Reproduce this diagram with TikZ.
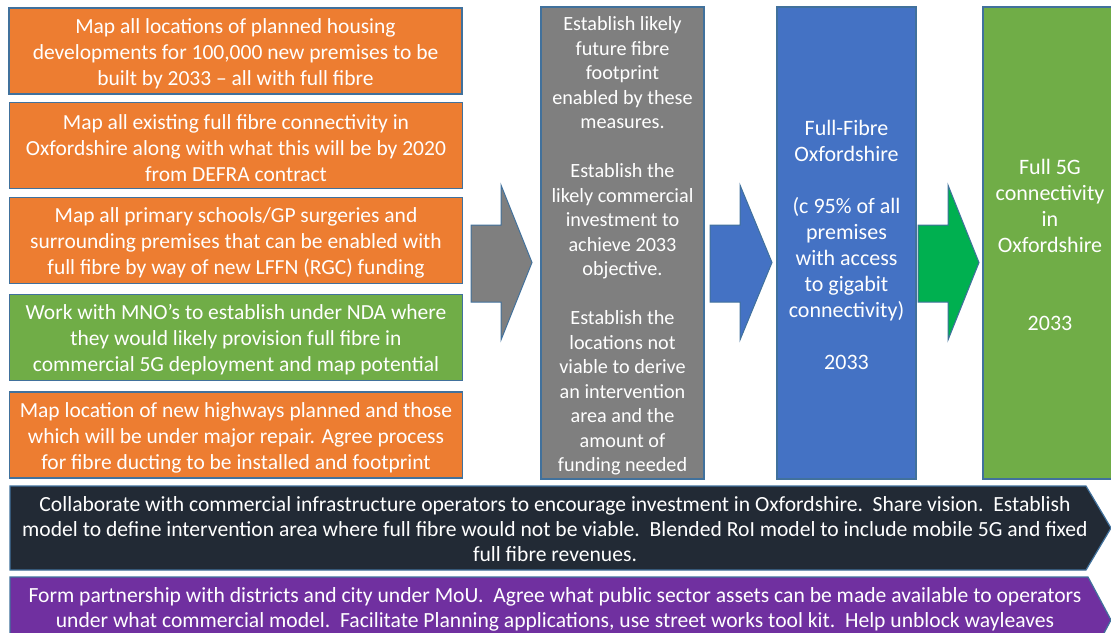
\documentclass[tikz,border=0pt]{standalone}
\usepackage{fontspec}
\setmainfont{Carlito}
\definecolor{orng}{HTML}{ED7D31}
\definecolor{grn}{HTML}{70AD47}
\definecolor{blu}{HTML}{4472C4}
\definecolor{gry}{HTML}{7F7F7F}
\definecolor{drk}{HTML}{222A35}
\definecolor{prp}{HTML}{7030A0}
\definecolor{arrgrn}{HTML}{00B050}
\definecolor{edge}{HTML}{41719C}
\begin{document}
\begin{tikzpicture}[x=1pt,y=-1pt,
  box/.style={draw=edge, line width=1.2pt, inner sep=0pt},
  leftbox/.style={box, minimum width=453pt, minimum height=86pt},
  colbox/.style={box, minimum height=472pt},
  txt/.style={text=white, align=center, inner sep=0pt},
  lefttxt/.style={txt, font=\fontsize{21.5}{26}\selectfont},
  blockarrow/.style={draw=edge, line width=1pt},
  banner/.style={draw=edge, line width=1.2pt},
  bannertxt/.style={txt, font=\fontsize{21.6}{25}\selectfont}]
\useasboundingbox (0,0) rectangle (1111,632);
\clip (0,0) rectangle (1111,632);

% left boxes
\node[leftbox, fill=orng] (b1) at (235.5,51) {};
\node[lefttxt] (b1t) at ([yshift=-3pt]b1.center) {Map all locations of planned housing\\developments for 100,000 new premises to be\\built by 2033 -- all with full fibre};
\node[leftbox, fill=orng] (b2) at (236,145.5) {};
\node[lefttxt] (b2t) at ([yshift=-2.5pt]b2.center) {Map all existing full fibre connectivity in\\Oxfordshire along with what this will be by 2020\\from DEFRA contract};
\node[leftbox, fill=orng] (b3) at (236,240.5) {};
\node[lefttxt] (b3t) at ([yshift=-2.5pt]b3.center) {Map all primary schools/GP surgeries and\\surrounding premises that can be enabled with\\full fibre by way of new LFFN (RGC) funding};
\node[leftbox, fill=grn] (b4) at (236,337.5) {};
\node[lefttxt] (b4t) at ([yshift=-2.5pt]b4.center) {Work with MNO’s to establish under NDA where\\they would likely provision full fibre in\\commercial 5G deployment and map potential};
\node[leftbox, fill=orng] (b5) at (236,435) {};
\node[lefttxt] (b5t) at ([yshift=-2.5pt]b5.center) {Map location of new highways planned and those\\which will be under major repair.  Agree process\\for fibre ducting to be installed and footprint};

% gray arrow
\draw[blockarrow, fill=gry] (471,225) -- (501,225) -- (501,185) -- (532,262.5) -- (501,340) -- (501,302) -- (471,302) -- cycle;

% gray column
\node[colbox, fill=gry, minimum width=163pt] (g) at (622.5,243) {};
\node[txt, font=\fontsize{20.2}{24.5}\selectfont] (gt) at ([yshift=-3pt]g.center)
 {Establish likely\\future fibre\\footprint\\enabled by these\\measures.\\[24.5pt]Establish the\\likely commercial\\investment to\\achieve 2033\\objective.\\[24.5pt]Establish the\\locations not\\viable to derive\\an intervention\\area and the\\amount of\\funding needed};

% blue arrow
\draw[blockarrow, fill=blu] (710,225) -- (740,225) -- (740,185) -- (772,262.5) -- (740,340) -- (740,302) -- (710,302) -- cycle;

% blue column
\node[colbox, fill=blu, minimum width=139pt] (fb) at (846.5,243) {};
\node[txt, font=\fontsize{22}{26}\selectfont] (fbt) at ([yshift=-2pt]fb.center)
 {Full-Fibre\\Oxfordshire\\[26pt](c 95\% of all\\premises\\with access\\to gigabit\\connectivity)\\[26pt]2033};

% green arrow
\draw[blockarrow, fill=arrgrn] (918,225) -- (948,225) -- (948,185) -- (979,262.5) -- (948,340) -- (948,302) -- (918,302) -- cycle;

% green column
\node[colbox, fill=grn, minimum width=134pt] (fg) at (1050,243) {};
\node[txt, font=\fontsize{22}{26}\selectfont] (fgt) at ([yshift=-2pt]fg.center)
 {Full 5G\\connectivity\\in\\Oxfordshire\\[52pt]2033};

% dark banner
\draw[banner, fill=drk] (10,486) -- (1086,486) -- (1111,528) -- (1086,570) -- (10,570) -- cycle;
\node[bannertxt] (t1) at (555,529)
 {Collaborate with commercial infrastructure operators to encourage investment in Oxfordshire.\ \ Share vision.\ \ Establish\\model to define intervention area where full fibre would not be viable.\ \ Blended RoI model to include mobile 5G and fixed\\full fibre revenues.};

% purple banner
\draw[banner, fill=prp] (10,577) -- (1088,577) -- (1111,620) -- (1088,663) -- (10,663) -- cycle;
\node[bannertxt] (t2) at (555,609)
 {Form partnership with districts and city under MoU.\ \ Agree what public sector assets can be made available to operators\\under what commercial model.\ \ Facilitate Planning applications, use street works tool kit.\ \ Help unblock wayleaves};
\end{tikzpicture}
\end{document}
